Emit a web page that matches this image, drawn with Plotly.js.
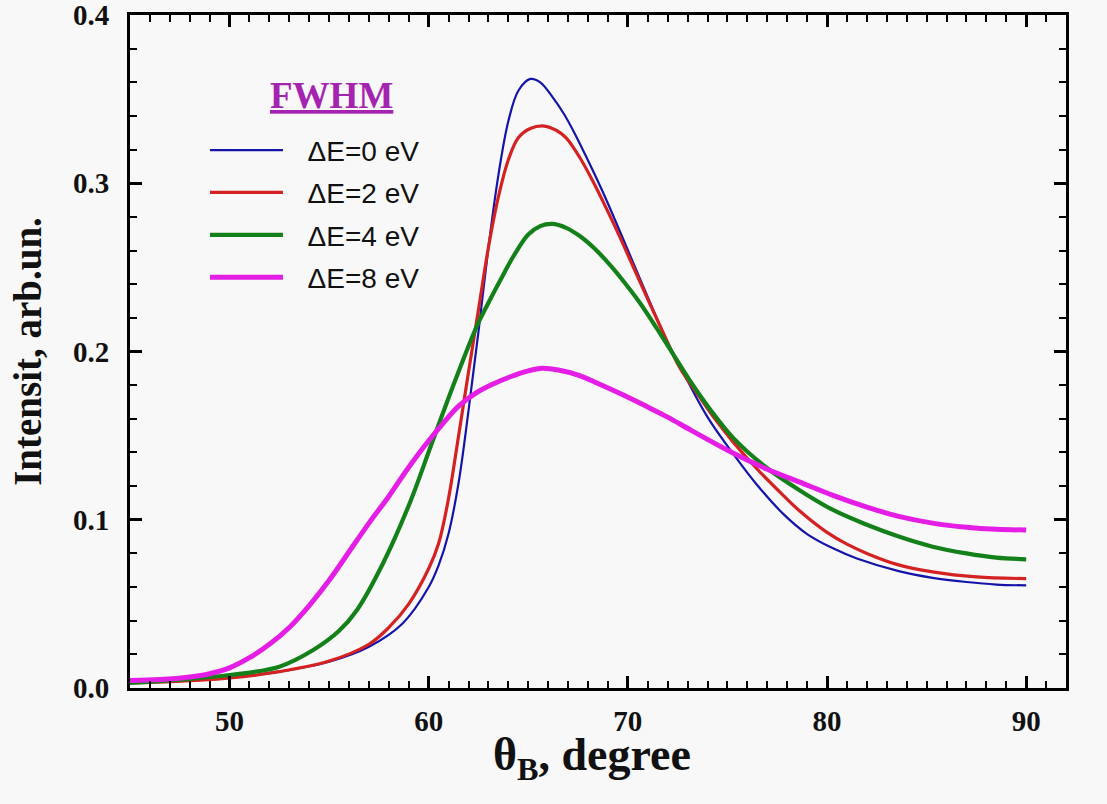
<!DOCTYPE html>
<html>
<head>
<meta charset="utf-8">
<script src="https://cdn.plot.ly/plotly-3.0.1.min.js"></script>
<style>
  body { margin: 0; background: #f8f8f8; }
</style>
</head>
<body>
<div id="chart" style="width:1107px;height:804px;"></div>
<script>
// values
var x0 = [45, 47.5, 50, 52.5, 55, 57, 58.7, 60, 60.5, 61, 61.5, 62, 62.5, 63, 63.5, 64, 64.5, 65.1, 65.6, 66.2, 66.8, 67.4, 68, 68.6, 69.2, 69.9, 70.6, 71.3, 72, 72.8, 74, 75.3, 76.5, 77.8, 79, 80.3, 81.5, 83.6, 85.3, 87, 88.5, 90];
var y0 = [0.003, 0.004, 0.006, 0.0097, 0.0156, 0.0245, 0.0385, 0.060, 0.073, 0.092, 0.122, 0.165, 0.212, 0.262, 0.305, 0.337, 0.355, 0.362, 0.360, 0.3515, 0.341, 0.328, 0.3135, 0.2985, 0.2825, 0.263, 0.2435, 0.224, 0.2055, 0.187, 0.161, 0.139, 0.1205, 0.1035, 0.0915, 0.083, 0.077, 0.0695, 0.0655, 0.063, 0.0615, 0.061];

var x2 = [45, 47.5, 50, 52.5, 55, 57, 58, 59, 60, 60.5, 61, 61.5, 62, 62.5, 63, 63.5, 64, 64.5, 65.1, 65.8, 66.4, 66.9, 67.6, 68.25, 68.9, 69.6, 70.3, 71.1, 71.8, 72.6, 73.6, 74.4, 75.3, 76.5, 77.8, 78.6, 80, 81, 82, 83.5, 85.3, 87.5, 90];
var y2 = [0.003, 0.004, 0.006, 0.0097, 0.016, 0.026, 0.036, 0.050, 0.071, 0.086, 0.113, 0.150, 0.188, 0.225, 0.262, 0.292, 0.314, 0.327, 0.3325, 0.334, 0.3315, 0.327, 0.315, 0.301, 0.2855, 0.268, 0.2495, 0.2285, 0.2105, 0.1905, 0.173, 0.1595, 0.146, 0.130, 0.1145, 0.1055, 0.0925, 0.0855, 0.080, 0.0735, 0.069, 0.066, 0.065];

var x4 = [45, 47.5, 50, 52.5, 54.2, 55.5, 56.4, 57.7, 59.05, 60.05, 60.7, 61.4, 62.4, 63, 63.6, 64.3, 65, 65.6, 66.2, 66.9, 67.6, 68.3, 69.1, 69.8, 70.6, 71.3, 71.9, 73.1, 74.2, 75.3, 76.9, 78.6, 80.3, 82, 83.6, 85.3, 87, 88.5, 90];
var y4 = [0.003, 0.005, 0.0077, 0.0127, 0.0226, 0.034, 0.0464, 0.074, 0.11, 0.142, 0.163, 0.185, 0.2147, 0.229, 0.2425, 0.2575, 0.2695, 0.2745, 0.2758, 0.2735, 0.2685, 0.2615, 0.2515, 0.2415, 0.229, 0.2165, 0.2055, 0.183, 0.1645, 0.1485, 0.1315, 0.1177, 0.1058, 0.097, 0.090, 0.084, 0.080, 0.0775, 0.0765];

var x8 = [45, 46.5, 48, 49, 50, 51, 52, 53, 54, 55, 56, 57, 58, 58.9, 59.8, 60.7, 61.5, 62.4, 63.2, 64.1, 65, 65.7, 66.5, 67.5, 68.5, 69.8, 71, 72, 73.2, 75.3, 77, 78.6, 80.3, 82, 83.6, 85.3, 87, 88.5, 90];
var y8 = [0.0045, 0.005, 0.0065, 0.0085, 0.012, 0.018, 0.026, 0.036, 0.049, 0.064, 0.081, 0.098, 0.114, 0.1296, 0.144, 0.157, 0.1675, 0.1755, 0.1805, 0.185, 0.1885, 0.19, 0.189, 0.186, 0.181, 0.174, 0.167, 0.161, 0.153, 0.1395, 0.130, 0.1225, 0.1145, 0.1075, 0.102, 0.098, 0.0955, 0.0943, 0.0939];

var yTicks = [0, 0.1, 0.2, 0.3, 0.4];
var xTicks = [50, 60, 70, 80, 90];

var names = ["\u0394E=0 eV", "\u0394E=2 eV", "\u0394E=4 eV", "\u0394E=8 eV"];
var colors = ["#1414a8", "#d42222", "#14801a", "#e41ee4"];

var serif = "Liberation Serif, Times New Roman, serif";
var pad = "\u2002\u2009";

function curve(x, y, i, w) {
  return {
    x: x,
    y: y,
    type: "scatter",
    mode: "lines",
    name: pad + names[i],
    legendgroup: "g" + i,
    line: { color: colors[i], width: w, shape: "spline", smoothing: 1 },
  };
}

var data = [
  curve(x0, y0, 0, 2.2),
  curve(x2, y2, 1, 3.2),
  curve(x4, y4, 2, 4.2),
  curve(x8, y8, 3, 5),
];

var layout = {
  width: 1107,
  height: 804,
  paper_bgcolor: "#f8f8f8",
  plot_bgcolor: "#f8f8f8",
  margin: { l: 130, r: 41, t: 15, b: 116 },
  showlegend: true,
  legend: {
    x: 0.0801,
    y: 0.836,
    xanchor: "left",
    yanchor: "top",
    bgcolor: "rgba(0,0,0,0)",
    itemwidth: 73,
    tracegroupgap: 3,
    traceorder: "grouped",
    font: { family: "Liberation Sans, Arial, sans-serif", size: 28, color: "#111" },
  },
  annotations: [
    {
      xref: "paper",
      yref: "paper",
      x: 0.215,
      y: 0.88,
      xanchor: "center",
      yanchor: "middle",
      showarrow: false,
      text: "<b><u>FWHM</u></b>",
      font: { family: serif, size: 37, color: "#a424b0" },
    },
    {
      xref: "paper",
      yref: "paper",
      x: 0.4936,
      y: -0.104,
      xanchor: "center",
      yanchor: "middle",
      showarrow: false,
      text: "<b>\u03b8<sub>B</sub>, degree</b>",
      font: { family: serif, size: 46, color: "#111" },
    },
  ],
  xaxis: {
    range: [45, 92],
    tickvals: xTicks,
    ticks: "inside",
    ticklen: 12,
    tickwidth: 2.5,
    tickcolor: "#000",
    minor: { dtick: 1, ticks: "inside", ticklen: 7, tickwidth: 2, tickcolor: "#000" },
    showline: true,
    linewidth: 3,
    linecolor: "#000",
    mirror: "allticks",
    showgrid: false,
    zeroline: false,
    ticklabelstandoff: 5,
    ticklabeloverflow: "allow",
    tickfont: { family: serif, size: 29, color: "#111", weight: "bold" },
  },
  yaxis: {
    range: [0, 0.4],
    tickvals: yTicks,
    tickformat: ".1f",
    ticks: "inside",
    ticklen: 12,
    tickwidth: 2.5,
    tickcolor: "#000",
    minor: { dtick: 0.02, ticks: "inside", ticklen: 7, tickwidth: 2, tickcolor: "#000" },
    showline: true,
    linewidth: 3,
    linecolor: "#000",
    mirror: "allticks",
    showgrid: false,
    zeroline: false,
    ticklabelstandoff: 12,
    ticklabeloverflow: "allow",
    tickfont: { family: serif, size: 29, color: "#111", weight: "bold" },
    title: {
      text: "<b>Intensit, arb.un.</b>",
      font: { family: serif, size: 39, color: "#111" },
      standoff: 20,
    },
  },
};

Plotly.newPlot("chart", data, layout, { displayModeBar: false });
</script>
</body>
</html>
